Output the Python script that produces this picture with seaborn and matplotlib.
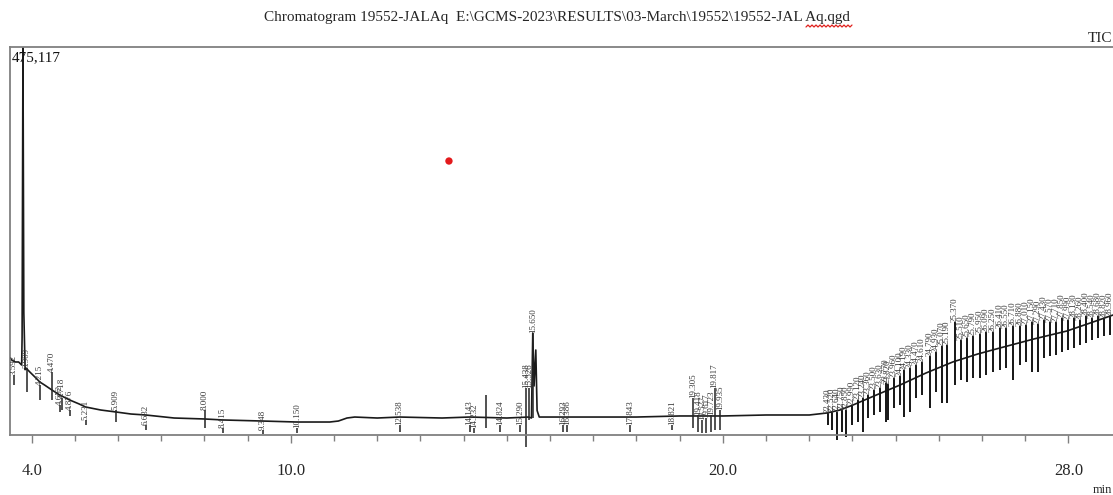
import numpy as np
import pandas as pd
import matplotlib.pyplot as plt
import seaborn as sns
from matplotlib.lines import Line2D

# TIC trace (retention time in min, intensity)
trace_rt = [3.50, 3.54, 3.62, 3.70, 3.77, 3.78, 3.80, 3.82, 3.85, 3.87, 3.96, 4.10, 4.19,
            4.30, 4.47, 4.65, 4.88, 5.10, 5.25, 5.60, 5.95, 6.30, 6.64, 7.30, 8.01, 8.43,
            9.35, 10.14, 10.90, 11.10, 11.30, 11.48, 12.00, 12.52, 13.50, 14.14, 15.00,
            15.50, 15.57, 15.60, 15.63, 15.67, 15.70, 15.75, 16.00, 17.00, 18.00, 19.00,
            20.00, 21.00, 22.00, 22.40, 22.71, 23.01, 23.50, 24.10, 24.70, 25.32, 25.90,
            26.41, 27.20, 27.96, 28.50, 29.03]
trace_int = [94300, 91800, 89400, 89400, 85700, 120000, 475117, 150000, 80000, 82000, 77100,
             69800, 64900, 61200, 55100, 49000, 42900, 38000, 34300, 30600, 28200, 25700,
             24500, 20800, 19600, 18400, 17100, 15900, 15900, 17100, 20800, 22000, 20800,
             22000, 20800, 22000, 20800, 22000, 20800, 124900, 60000, 104100, 30000, 22000,
             22000, 22000, 22000, 23300, 23300, 24500, 24500, 26900, 30600, 36700, 47800,
             61200, 75900, 89400, 99200, 106500, 117600, 127300, 137100, 146900]

# labelled peaks, early part of the run
peak_rt = [3.59, 3.89, 4.19, 4.47, 4.65, 4.70, 4.88, 5.25, 5.95, 6.64, 8.01, 8.43, 9.35,
           10.14, 12.52, 14.14, 14.24, 14.51, 14.84, 15.30, 15.44, 15.52, 15.60, 16.30,
           16.39, 17.85, 18.82, 19.31, 19.42, 19.52, 19.62, 19.72, 19.81, 19.93]
peak_top = [73500, 82000, 61200, 77100, 36700, 45300, 30600, 18400, 30600, 12200, 30600,
            8600, 6100, 8600, 12200, 12200, 8600, 49000, 12200, 12200, 57600, 57600,
            124900, 12200, 12200, 12200, 12200, 45300, 24500, 18400, 20800, 24500, 57600,
            30600]
peak_low = [61200, 52700, 42900, 42900, 28200, 30600, 23300, 12200, 15900, 6100, 8600,
            2400, 1200, 2400, 3700, 3700, 2400, 8600, 3700, 3700, -14700, 18400, 20800,
            3700, 3700, 3700, 6100, 8600, 3700, 2400, 2400, 3700, 6100, 6100]
peak_label = ["3.592", "3.909", "4.215", "4.470", "4.652", "4.718", "4.876", "5.231",
              "5.909", "6.632", "8.000", "8.415", "9.348", "10.150", "12.538", "14.143",
              "14.232", "", "14.824", "15.290", "15.438", "15.526", "15.650", "16.293",
              "16.386", "17.843", "18.821", "19.305", "19.418", "19.527", "19.617",
              "19.723", "19.817", "19.935"]

# labelled peaks, late (column bleed) part of the run
late_rt = [22.43, 22.52, 22.64, 22.75, 22.85, 22.99, 23.12, 23.24, 23.36, 23.50, 23.63,
           23.77, 23.82, 23.96, 24.10, 24.19, 24.33, 24.47, 24.61, 24.79, 24.93, 25.07,
           25.19, 25.37, 25.51, 25.65, 25.79, 25.95, 26.09, 26.25, 26.41, 26.55, 26.71,
           26.88, 27.01, 27.15, 27.29, 27.43, 27.57, 27.71, 27.85, 27.99, 28.13, 28.26,
           28.40, 28.54, 28.68, 28.82, 28.96]
late_top = [26900, 28200, 28200, 30600, 30600, 36700, 42900, 45300, 49000, 55100, 57600,
            63700, 62400, 69800, 72200, 79600, 82000, 85700, 89400, 96700, 101600, 109000,
            110200, 138400, 116300, 118800, 121200, 123700, 126100, 126100, 131000, 131000,
            133500, 133500, 134700, 138400, 135900, 140800, 138400, 138400, 143300, 140800,
            143300, 140800, 145700, 143300, 145700, 143300, 145700]
late_low = [12200, 6100, -6100, 3700, -2400, 12200, 15900, 3700, 20800, 24500, 28200,
            15900, 18400, 33100, 36700, 22000, 28200, 45300, 49000, 33100, 52700, 39200,
            39200, 61200, 67300, 64900, 69800, 69800, 73500, 77100, 79600, 82000, 67300,
            85700, 89400, 77100, 77100, 94300, 96700, 98000, 101600, 104100, 106500,
            110200, 112700, 116300, 118800, 121200, 122500]

y_max = 475117
marker_rt = [13.66]
marker_int = [335500]

title = r"Chromatogram 19552-JALAq  E:\GCMS-2023\RESULTS\03-March\19552\19552-JAL Aq.qgd"

sns.set_theme(style="white")
plt.rcParams['font.family'] = ['Liberation Serif', 'DejaVu Serif']

fig = plt.figure(figsize=(11.13, 4.95), dpi=100)
ax = fig.add_axes([10 / 1113, 60 / 495, 1103 / 1113, 388 / 495])

trace = pd.DataFrame({"rt": trace_rt, "tic": trace_int})
sns.lineplot(data=trace, x="rt", y="tic", ax=ax, color="#1a1a1a", linewidth=1.2)

ax.vlines(peak_rt, peak_low, peak_top, color="#222222", linewidth=1.1, clip_on=False)
ax.vlines(late_rt, late_low, late_top, color="#151515", linewidth=1.4, clip_on=False)

all_rt = peak_rt + late_rt
all_top = peak_top + late_top
all_lab = peak_label + [f"{t:.3f}" for t in late_rt]
for t, top, lab in zip(all_rt, all_top, all_lab):
    if lab:
        ax.text(t, top, lab, rotation=90, ha="center", va="bottom",
                fontsize=6.5, color="#3a3a3a", clip_on=True)

sns.scatterplot(x=marker_rt, y=marker_int, ax=ax, color="#e31a1c", s=28,
                edgecolor="none", zorder=5)

ax.set_xlim(3.5, 29.03)
ax.set_ylim(0, y_max)
ax.set_xlabel("")
ax.set_ylabel("")
ax.set_yticks([])
ax.set_xticks([4, 10, 20, 28])
ax.set_xticklabels(["4.0", "10.0", "20.0", "28.0"], fontsize=12)
ax.set_xticks([t for t in range(5, 29) if t not in (10, 20)], minor=True)
ax.tick_params(axis="x", which="major", direction="out", length=6, width=1,
               color="#808080", pad=14, bottom=True)
ax.tick_params(axis="x", which="minor", direction="out", length=4, width=1,
               color="#808080", bottom=True)
for side in ["left", "top", "bottom"]:
    ax.spines[side].set_color("#808080")
    ax.spines[side].set_linewidth(1.3)
ax.spines["right"].set_visible(False)

ax.text(0.002, 0.972, f"{y_max:,}", transform=ax.transAxes, ha="left", va="center",
        fontsize=11, color="#111111")
fig.text(0.5, 1 - 18 / 495, title, ha="center", va="center", fontsize=11)
fig.text(0.999, 1 - 39 / 495, "TIC", ha="right", va="center", fontsize=11)
fig.text(0.999, 1 - 490 / 495, "min", ha="right", va="center", fontsize=9)

# red spell-check squiggle under the file extension in the title
wx = np.linspace(806, 852, 24) / 1113
wy = (1 - 27 / 495) + np.tile([0.0, 0.004], 12)
fig.add_artist(Line2D(wx, wy, color="#e0201c", linewidth=0.9))

fig.savefig("out.png", dpi=100)
plt.close(fig)
